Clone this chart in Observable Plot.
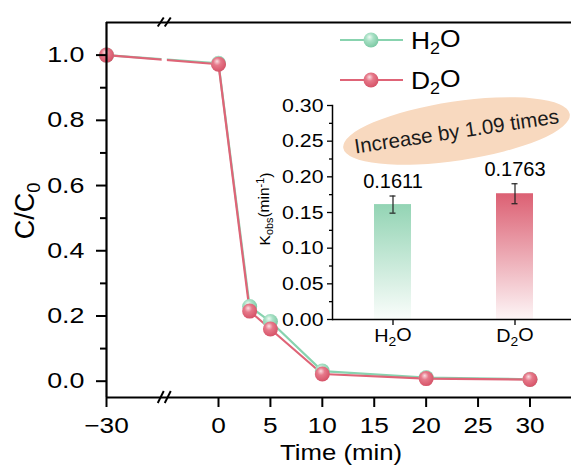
<!DOCTYPE html>
<html><head><meta charset="utf-8">
<script src="https://cdn.jsdelivr.net/npm/d3@7"></script>
<script src="https://cdn.jsdelivr.net/npm/@observablehq/plot@0.6"></script>
<style>
body{margin:0;background:#fff;}
#chart{position:relative;width:571px;height:465px;overflow:hidden;background:#fff;}
#chart svg.plot{position:absolute;font-family:"Liberation Sans",Arial,sans-serif;}
</style></head><body>
<svg width="0" height="0" style="position:absolute">
  <defs>
    <radialGradient id="ballG" cx="0.42" cy="0.38" r="0.62" fx="0.4" fy="0.3">
      <stop offset="0" stop-color="#eefaf3"/><stop offset="0.4" stop-color="#a9e1c6"/><stop offset="1" stop-color="#7cc9a4"/>
    </radialGradient>
    <radialGradient id="ballR" cx="0.42" cy="0.38" r="0.62" fx="0.4" fy="0.3">
      <stop offset="0" stop-color="#fbdde1"/><stop offset="0.4" stop-color="#e6798a"/><stop offset="1" stop-color="#d65368"/>
    </radialGradient>
    <linearGradient id="barG" x1="0" y1="0" x2="0" y2="1">
      <stop offset="0" stop-color="#93d4b4"/><stop offset="1" stop-color="#fafdfb"/>
    </linearGradient>
    <linearGradient id="barR" x1="0" y1="0" x2="0" y2="1">
      <stop offset="0" stop-color="#dc6073"/><stop offset="1" stop-color="#fdf5f6"/>
    </linearGradient>
  </defs>
</svg>
<div id="chart"></div>
<script>
// ---- data ----
const time = [-30, 0, 3, 5, 10, 20, 30];
const h2o = [1.0, 0.975, 0.229, 0.183, 0.031, 0.011, 0.006];
const d2o = [1.0, 0.972, 0.215, 0.160, 0.022, 0.008, 0.005];
const xTicks = [-30, 0, 5, 10, 15, 20, 25, 30];
const yTicks = [0, 0.2, 0.4, 0.6, 0.8, 1.0];
const yMinor = [0.1, 0.3, 0.5, 0.7, 0.9];
const solvents = ["H2O", "D2O"];
const kobs = [0.1611, 0.1763];
const kErr = [0.012, 0.014];
const insetTicks = [0, 0.05, 0.10, 0.15, 0.20, 0.25, 0.30];
const insetMinor = [0.025, 0.075, 0.125, 0.175, 0.225, 0.275];
const note = "Increase by 1.09 times";
const breakAt = -14.4;

// ---- styles ----
const colors = {H2O: "#88d3af", D2O: "#df6477"};
const balls = {H2O: "url(#ballG)", D2O: "url(#ballR)"};
const bars = {H2O: "url(#barG)", D2O: "url(#barR)"};
const FONT = '"Liberation Sans", Arial, sans-serif';

const rows = solvents.flatMap((s, j) => time.map((t, i) => ({t, c: (j === 0 ? h2o : d2o)[i], s})));
const barRows = solvents.map((s, i) => ({s, k: kobs[i], e: kErr[i]}));
const xDom = [-30, 0, 34], yDom = [-0.05, 1.1];

const main = Plot.plot({
  width: 571, height: 465, marginLeft: 106, marginRight: 0, marginTop: 22, marginBottom: 68,
  style: {fontFamily: FONT, background: "transparent", overflow: "visible", color: "#000"},
  x: {type: "linear", domain: xDom, range: [106, 218, 571]},
  y: {domain: yDom, range: [397, 22]},
  marks: [
    ...solvents.map(s => Plot.line(rows.filter(d => d.s === s), {x: "t", y: "c", stroke: colors[s], strokeWidth: 2.2})),
    Plot.rect([{a: breakAt - 0.7, b: breakAt + 0.7}], {x1: "a", x2: "b", y1: yDom[0] + 0.01, y2: yDom[1] - 0.01, fill: "white"}),
    ...solvents.map(s => Plot.dot(rows.filter(d => d.s === s), {x: "t", y: "c", r: 7.5, fill: balls[s], stroke: "none"})),
    Plot.axisX({ticks: xTicks, tickSize: 10, tickPadding: 10, fontSize: 21.5, strokeWidth: 2, label: null}),
    Plot.axisY({ticks: yTicks, tickSize: 10, tickPadding: 12, fontSize: 22, strokeWidth: 2, tickFormat: d3.format(".1f"), label: null}),
    Plot.axisY({ticks: yMinor, tickSize: 6, strokeWidth: 2, tickFormat: () => "", label: null}),
    Plot.ruleX([xDom[0]], {strokeWidth: 2.2}),
    Plot.ruleY([yDom[0]], {strokeWidth: 2.2}),
    Plot.ruleY([yDom[1]], {strokeWidth: 2.2})
  ]
});
main.classList.add("plot");
main.style.left = "0px"; main.style.top = "0px";

const inset = Plot.plot({
  width: 321, height: 270, marginLeft: 82, marginRight: 0, marginTop: 15, marginBottom: 41,
  style: {fontFamily: FONT, background: "transparent", overflow: "visible", color: "#000"},
  x: {type: "band", domain: solvents, range: [82, 324.6], paddingInner: 0.7, paddingOuter: 0.344, align: 0.5},
  y: {domain: [0, 0.3], range: [229, 15]},
  marks: [
    ...barRows.map(r => Plot.barY([r], {x: "s", y: "k", fill: bars[r.s]})),
    Plot.ruleX(barRows, {x: "s", y1: d => d.k - d.e, y2: d => d.k + d.e, strokeWidth: 1.2, stroke: "#222"}),
    Plot.tickY(barRows, {x: "s", y: d => d.k - d.e, insetLeft: 15.5, insetRight: 15.5, strokeWidth: 1.2, stroke: "#222"}),
    Plot.tickY(barRows, {x: "s", y: d => d.k + d.e, insetLeft: 15.5, insetRight: 15.5, strokeWidth: 1.2, stroke: "#222"}),
    Plot.text(barRows, {x: "s", y: d => d.k + d.e, text: d => d.k.toFixed(4), dy: -8, lineAnchor: "bottom", fontSize: 20}),
    Plot.axisY({ticks: insetTicks, tickSize: 5, tickPadding: 4, fontSize: 19, strokeWidth: 1.3, tickFormat: d3.format(".2f"), label: null}),
    Plot.axisY({ticks: insetMinor, tickSize: 3, strokeWidth: 1.3, tickFormat: () => "", label: null}),
    Plot.axisX({tickSize: 6, tickPadding: 4, fontSize: 18, strokeWidth: 1.3, label: null}),
    Plot.ruleY([0], {strokeWidth: 1.5}),
    Plot.frame({anchor: "left", strokeWidth: 1.5})
  ]
});
inset.classList.add("plot");
inset.style.left = "250px"; inset.style.top = "90px";

const chart = document.getElementById("chart");
chart.appendChild(main);
chart.appendChild(inset);

function stretch(sel, sx) {
  sel.each(function () {
    const t = this.getAttribute("transform") || "";
    this.setAttribute("transform", t + ` scale(${sx},1)`);
  });
}
function chem(textSel, label, subSize) {
  textSel.text(null);
  textSel.append("tspan").text(label[0]);
  textSel.append("tspan").attr("font-size", subSize).attr("dy", "0.3em").text(label[1]);
  textSel.append("tspan").attr("dy", "-0.3em").text(label.slice(2));
}

const ms = d3.select(main), is = d3.select(inset);
stretch(ms.selectAll('[aria-label="x-axis tick label"] text'), 1.22);
stretch(ms.selectAll('[aria-label="y-axis tick label"] text'), 1.22);
stretch(is.selectAll('[aria-label="y-axis tick label"] text'), 1.12);
is.selectAll('[aria-label="x-axis tick label"] text').each(function () {
  const t = d3.select(this); chem(t, t.text(), "0.7em");
});
stretch(is.selectAll('[aria-label="x-axis tick label"] text'), 1.1);

// break marks on the main x axis (top and bottom)
const X = main.scale("x").apply(breakAt), Y0 = main.scale("y").apply(yDom[0]), Y1 = main.scale("y").apply(yDom[1]);
const brk = ms.append("g").attr("stroke", "#000").attr("stroke-width", 2);
[[Y0, 6], [Y1, 4.5]].forEach(([yy, h]) => {
  [-3.5, 3.5].forEach(off => {
    brk.append("line").attr("x1", X + off - 3).attr("y1", yy + h).attr("x2", X + off + 3).attr("y2", yy - h);
  });
});

// axis titles
const xt = ms.append("text").attr("transform", "translate(341,460)").attr("text-anchor", "middle")
  .attr("font-size", 23).text("Time (min)");
stretch(xt, 1.12);
const yl = ms.append("text").attr("transform", "translate(34,211) rotate(-90)").attr("text-anchor", "middle").attr("font-size", 27);
yl.append("tspan").text("C/C");
yl.append("tspan").attr("font-size", "0.68em").attr("dy", "0.3em").text("0");

// legend
solvents.forEach((s, i) => {
  const y = 40 + i * 40;
  ms.append("line").attr("x1", 340).attr("x2", 403).attr("y1", y).attr("y2", y).attr("stroke", colors[s]).attr("stroke-width", 2.2);
  ms.append("circle").attr("cx", 371).attr("cy", y).attr("r", 7.5).attr("fill", balls[s]);
  const t = ms.append("text").attr("transform", `translate(411,${y + 9})`).attr("text-anchor", "start").attr("font-size", 24);
  chem(t, s, "0.68em");
  stretch(t, 1.1);
});

// inset y title
const kl = is.append("text").attr("transform", "translate(20,119) rotate(-90)").attr("text-anchor", "middle").attr("font-size", 15.5);
kl.append("tspan").text("K");
kl.append("tspan").attr("font-size", "0.7em").attr("dy", "0.3em").text("obs");
kl.append("tspan").attr("dy", "-0.3em").text("(min");
kl.append("tspan").attr("font-size", "0.7em").attr("dy", "-0.45em").text("-1");
kl.append("tspan").attr("dy", "0.45em").text(")");

// annotation ellipse (behind bars)
const ann = is.insert("g", ":first-child").attr("transform", "translate(206.5,41) rotate(-8.5)");
ann.append("ellipse").attr("rx", 114.5).attr("ry", 29.5).attr("fill", "#f8d9bf");
ann.append("text").attr("text-anchor", "middle").attr("dy", "0.36em").attr("font-size", 20.5).attr("fill", "#1a1a1a").text(note);
</script>
</body></html>
